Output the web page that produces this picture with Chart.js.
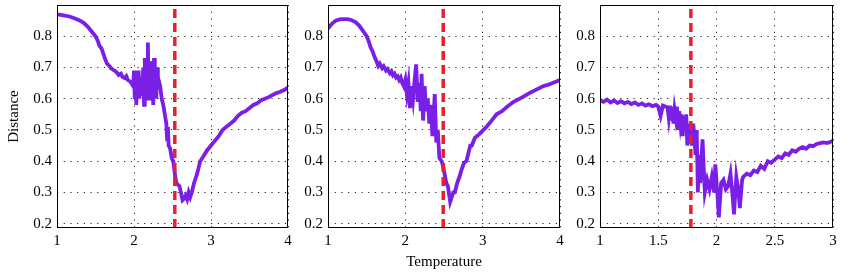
<!DOCTYPE html>
<html>
<head>
<meta charset="utf-8">
<script src="https://cdn.jsdelivr.net/npm/chart.js@4/dist/chart.umd.min.js"></script>
<style>
  html, body { margin: 0; padding: 0; background: #fff; }
  body { width: 852px; height: 274px; position: relative; overflow: hidden; }
  .panel { position: absolute; top: 0; height: 274px; }
</style>
</head>
<body>
<div class="panel" id="p1" style="left:0px;width:298px"><canvas id="c1"></canvas></div>
<div class="panel" id="p2" style="left:283px;width:287px"><canvas id="c2"></canvas></div>
<div class="panel" id="p3" style="left:555px;width:288px"><canvas id="c3"></canvas></div>
<script>
// shared axis settings
var yMin = 0.186;
var yMax = 0.9;
var yTicks = [0.2, 0.3, 0.4, 0.5, 0.6, 0.7, 0.8];

// panel 1
var x1Ticks = [1, 2, 3, 4];
var x1 = [1.00, 1.05, 1.10, 1.15, 1.20, 1.25, 1.30, 1.35, 1.40, 1.45, 1.50, 1.53, 1.55, 1.58, 1.60, 1.62, 1.65, 1.68, 1.70, 1.73,
  1.75, 1.78, 1.80, 1.83, 1.85, 1.88, 1.90, 1.92, 1.95, 1.97, 1.99, 2.00, 2.01, 2.02, 2.03, 2.04, 2.05, 2.06, 2.07, 2.08,
  2.09, 2.10, 2.11, 2.12, 2.13, 2.14, 2.15, 2.16, 2.17, 2.18, 2.19, 2.20, 2.21, 2.22, 2.23, 2.24, 2.25, 2.26, 2.27, 2.28,
  2.29, 2.30, 2.31, 2.32, 2.34, 2.36, 2.38, 2.40, 2.42, 2.43, 2.44, 2.45, 2.47, 2.49, 2.51, 2.53, 2.55, 2.57, 2.59, 2.61,
  2.63, 2.65, 2.67, 2.69, 2.71, 2.73, 2.75, 2.78, 2.82, 2.86, 2.90, 2.95, 3.00, 3.05, 3.10, 3.15, 3.20, 3.25, 3.30, 3.35,
  3.40, 3.45, 3.50, 3.55, 3.60, 3.65, 3.70, 3.75, 3.80, 3.85, 3.90, 3.95, 4.00];
var y1 = [0.870, 0.868, 0.866, 0.864, 0.860, 0.855, 0.850, 0.842, 0.830, 0.815, 0.800, 0.785, 0.770, 0.760, 0.745, 0.730, 0.712, 0.705, 0.698, 0.692,
  0.690, 0.683, 0.676, 0.680, 0.670, 0.666, 0.672, 0.660, 0.655, 0.648, 0.640, 0.690, 0.600, 0.690, 0.580, 0.670, 0.620, 0.690, 0.600, 0.650,
  0.610, 0.670, 0.640, 0.700, 0.580, 0.730, 0.620, 0.690, 0.600, 0.780, 0.640, 0.700, 0.600, 0.720, 0.620, 0.680, 0.580, 0.730, 0.630, 0.680,
  0.600, 0.700, 0.650, 0.660, 0.640, 0.600, 0.580, 0.550, 0.520, 0.470, 0.510, 0.450, 0.440, 0.410, 0.400, 0.360, 0.330, 0.325, 0.320, 0.300,
  0.275, 0.280, 0.290, 0.278, 0.300, 0.285, 0.300, 0.330, 0.360, 0.400, 0.415, 0.435, 0.450, 0.465, 0.480, 0.500, 0.510, 0.520, 0.530, 0.545,
  0.555, 0.560, 0.570, 0.580, 0.585, 0.595, 0.600, 0.605, 0.612, 0.618, 0.622, 0.628, 0.635];
var t1 = 2.53;

// panel 2
var x2Ticks = [1, 2, 3, 4];
var x2 = [1.00, 1.05, 1.10, 1.15, 1.20, 1.25, 1.30, 1.35, 1.40, 1.45, 1.50, 1.52, 1.55, 1.58, 1.60, 1.63, 1.65, 1.67, 1.70, 1.72,
  1.75, 1.77, 1.80, 1.82, 1.84, 1.86, 1.88, 1.90, 1.92, 1.94, 1.96, 1.98, 2.00, 2.02, 2.04, 2.06, 2.08, 2.10, 2.12, 2.14,
  2.16, 2.18, 2.20, 2.21, 2.23, 2.25, 2.27, 2.29, 2.31, 2.33, 2.35, 2.37, 2.38, 2.40, 2.42, 2.44, 2.47, 2.50, 2.53, 2.55,
  2.58, 2.60, 2.62, 2.64, 2.67, 2.70, 2.73, 2.76, 2.79, 2.82, 2.84, 2.86, 2.90, 2.95, 3.01, 3.05, 3.10, 3.18, 3.25, 3.32,
  3.40, 3.48, 3.55, 3.62, 3.70, 3.78, 3.85, 3.92, 4.00];
var y2 = [0.825, 0.840, 0.850, 0.854, 0.855, 0.855, 0.852, 0.846, 0.835, 0.818, 0.800, 0.788, 0.765, 0.750, 0.735, 0.718, 0.705, 0.712, 0.698, 0.704,
  0.690, 0.695, 0.682, 0.688, 0.675, 0.680, 0.668, 0.672, 0.660, 0.668, 0.650, 0.640, 0.660, 0.615, 0.650, 0.570, 0.640, 0.600, 0.660, 0.710,
  0.590, 0.650, 0.560, 0.680, 0.530, 0.640, 0.560, 0.600, 0.520, 0.580, 0.480, 0.560, 0.615, 0.460, 0.500, 0.410, 0.400, 0.370, 0.330, 0.320,
  0.270, 0.285, 0.300, 0.300, 0.330, 0.350, 0.375, 0.395, 0.400, 0.430, 0.450, 0.450, 0.475, 0.485, 0.500, 0.510, 0.525, 0.550, 0.560, 0.575,
  0.590, 0.600, 0.610, 0.620, 0.630, 0.640, 0.645, 0.652, 0.660];
var t2 = 2.49;

// panel 3
var x3Ticks = [1, 1.5, 2, 2.5, 3];
var x3 = [1.00, 1.03, 1.06, 1.09, 1.12, 1.15, 1.18, 1.21, 1.24, 1.27, 1.30, 1.33, 1.36, 1.39, 1.42, 1.45, 1.48, 1.50, 1.52, 1.54,
  1.56, 1.58, 1.59, 1.60, 1.61, 1.62, 1.63, 1.64, 1.65, 1.66, 1.67, 1.68, 1.69, 1.70, 1.71, 1.72, 1.73, 1.74, 1.75, 1.76,
  1.77, 1.78, 1.79, 1.80, 1.81, 1.82, 1.83, 1.84, 1.85, 1.86, 1.88, 1.89, 1.90, 1.92, 1.94, 1.96, 1.98, 1.99, 2.01, 2.02,
  2.04, 2.06, 2.08, 2.10, 2.12, 2.14, 2.15, 2.17, 2.19, 2.20, 2.22, 2.23, 2.26, 2.29, 2.32, 2.35, 2.38, 2.41, 2.44, 2.47,
  2.50, 2.53, 2.56, 2.59, 2.62, 2.65, 2.68, 2.71, 2.74, 2.77, 2.80, 2.83, 2.86, 2.89, 2.92, 2.95, 2.98, 3.00];
var y3 = [0.595, 0.590, 0.597, 0.588, 0.594, 0.586, 0.592, 0.585, 0.590, 0.583, 0.588, 0.580, 0.585, 0.578, 0.582, 0.576, 0.580, 0.575, 0.545, 0.578,
  0.575, 0.572, 0.540, 0.578, 0.530, 0.575, 0.520, 0.565, 0.540, 0.575, 0.500, 0.560, 0.520, 0.550, 0.480, 0.545, 0.500, 0.550, 0.450, 0.520,
  0.470, 0.500, 0.450, 0.520, 0.480, 0.420, 0.500, 0.300, 0.420, 0.330, 0.470, 0.380, 0.300, 0.340, 0.310, 0.350, 0.300, 0.390, 0.280, 0.220,
  0.330, 0.340, 0.310, 0.320, 0.360, 0.280, 0.230, 0.350, 0.300, 0.250, 0.340, 0.350, 0.360, 0.355, 0.370, 0.365, 0.385, 0.375, 0.400, 0.395,
  0.405, 0.415, 0.410, 0.425, 0.420, 0.435, 0.430, 0.440, 0.445, 0.440, 0.450, 0.448, 0.455, 0.458, 0.460, 0.458, 0.462, 0.465];
var t3 = 1.78;

var purple = "#7a1fe6";
var red = "#e8202a";
var serif = "'Liberation Serif', 'Times New Roman', serif";

function toPoints(xs, ys) {
  var pts = [];
  for (var i = 0; i < xs.length; i++) pts.push({ x: xs[i], y: ys[i] });
  return pts;
}

// black box round the plot area (MATLAB style)
var boxPlugin = {
  id: "box",
  afterDraw: function(chart) {
    var a = chart.chartArea;
    var ctx = chart.ctx;
    ctx.save();
    ctx.strokeStyle = "#000";
    ctx.lineWidth = 1;
    ctx.strokeRect(Math.round(a.left) + 0.5, Math.round(a.top) + 0.5,
      Math.round(a.right - a.left) - 1, Math.round(a.bottom - a.top) - 1);
    ctx.restore();
  }
};

function makeChart(id, xs, ys, xTicks, tc, yAxisW, yTitle, xTitle) {
  var ctx = document.getElementById(id);
  var xMin = xTicks[0];
  var xMax = xTicks[xTicks.length - 1];
  return new Chart(ctx, {
    type: "line",
    data: {
      datasets: [
        {
          data: [{ x: tc, y: yMin }, { x: tc, y: yMax }],
          borderColor: red,
          borderWidth: 3.5,
          borderDash: [9, 5],
          pointRadius: 0,
          order: 0
        },
        {
          data: toPoints(xs, ys),
          borderColor: purple,
          borderWidth: 3.8,
          pointRadius: 0,
          tension: 0,
          order: 1
        }
      ]
    },
    options: {
      responsive: true,
      maintainAspectRatio: false,
      animation: false,
      layout: { padding: { top: 5, right: 10, left: 0, bottom: 0 } },
      plugins: {
        legend: { display: false },
        tooltip: { enabled: false }
      },
      scales: {
        x: {
          type: "linear",
          min: xMin,
          max: xMax,
          afterBuildTicks: function(scale) {
            scale.ticks = xTicks.map(function(v) { return { value: v }; });
          },
          afterFit: function(scale) {
            scale.height = 46;
            scale.paddingLeft = 0;
            scale.paddingRight = 0;
          },
          ticks: {
            color: "#000",
            padding: 4,
            maxRotation: 0,
            font: { family: serif, size: 15 },
            callback: function(v) { return String(v); }
          },
          grid: { color: "#222", lineWidth: 1, drawTicks: false },
          border: { display: false, dash: [1.2, 5.5] },
          title: {
            display: !!xTitle,
            text: xTitle || "",
            color: "#000",
            font: { family: serif, size: 15 },
            padding: { top: 0, bottom: 3 }
          }
        },
        y: {
          type: "linear",
          min: yMin,
          max: yMax,
          afterBuildTicks: function(scale) {
            scale.ticks = yTicks.map(function(v) { return { value: v }; });
          },
          afterFit: function(scale) {
            scale.width = yAxisW;
            scale.paddingTop = 0;
            scale.paddingBottom = 0;
          },
          ticks: {
            color: "#000",
            padding: 5,
            font: { family: serif, size: 15 },
            callback: function(v) { return v.toFixed(1); }
          },
          grid: { color: "#222", lineWidth: 1, drawTicks: false },
          border: { display: false, dash: [1.2, 5.5] },
          title: {
            display: !!yTitle,
            text: yTitle || "",
            color: "#000",
            font: { family: serif, size: 15 },
            padding: { top: 5, bottom: 0 }
          }
        }
      }
    },
    plugins: [boxPlugin]
  });
}

makeChart("c1", x1, y1, x1Ticks, t1, 57, "Distance", null);
makeChart("c2", x2, y2, x2Ticks, t2, 45, null, "Temperature");
makeChart("c3", x3, y3, x3Ticks, t3, 45, null, null);
</script>
</body>
</html>
